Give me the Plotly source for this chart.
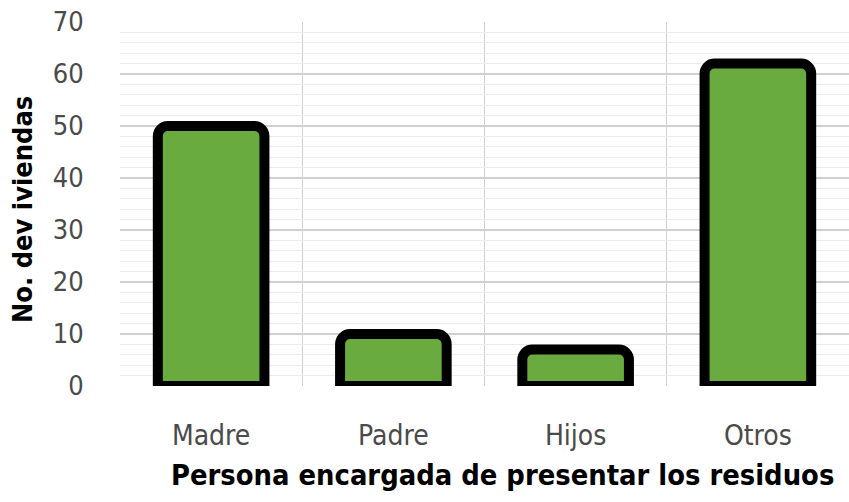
import plotly.graph_objects as go

categories = ["Madre", "Padre", "Hijos", "Otros"]
values = [50, 10, 7, 62]
positions = list(range(len(categories)))

fig = go.Figure()
fig.add_trace(go.Bar(
    x=positions, y=values, width=0.585,
    marker=dict(color="#6aab3f", line=dict(color="black", width=10)),
))

font_family = "Liberation Sans Narrow, DejaVu Sans Condensed, Arial Narrow, sans-serif"
fig.update_layout(
    width=849, height=502,
    margin=dict(l=120, r=0, t=22, b=116),
    plot_bgcolor="white", paper_bgcolor="white",
    barcornerradius=10,
    showlegend=False,
    font=dict(family=font_family),
    annotations=[
        dict(text="<b>Persona encargada de presentar los residuos</b>",
             xref="paper", yref="paper", x=0.525, y=-0.2445,
             xanchor="center", yanchor="middle", showarrow=False,
             font=dict(size=28.8, color="black")),
        dict(text="<b>No. dev iviendas</b>",
             xref="paper", yref="paper", x=-0.1344, y=0.4835, textangle=-90,
             xanchor="center", yanchor="middle", showarrow=False,
             font=dict(size=27, color="black")),
    ],
)
fig.update_xaxes(
    automargin=False,
    range=[-0.5, 3.5],
    tickvals=positions, ticktext=categories,
    tickfont=dict(size=28, color="#4a4a4a"),
    ticks="outside", ticklen=24, tickcolor="rgba(0,0,0,0)",
    showgrid=False, zeroline=False,
    minor=dict(tick0=-0.5, dtick=1, showgrid=True, gridcolor="#d0d0d0", gridwidth=1),
)
fig.update_yaxes(
    automargin=False,
    range=[0, 70], dtick=10,
    ticklabeloverflow="allow",
    tickfont=dict(size=27, color="#4a4a4a"),
    ticks="outside", ticklen=30, tickcolor="rgba(0,0,0,0)",
    showgrid=True, gridcolor="#d0d0d0", gridwidth=1.5,
    zeroline=False,
    minor=dict(dtick=2, showgrid=True, gridcolor="#ececec", gridwidth=1),
)

fig.write_html("out.html", config={"displayModeBar": False},
               post_script="document.body.style.margin='0';")
